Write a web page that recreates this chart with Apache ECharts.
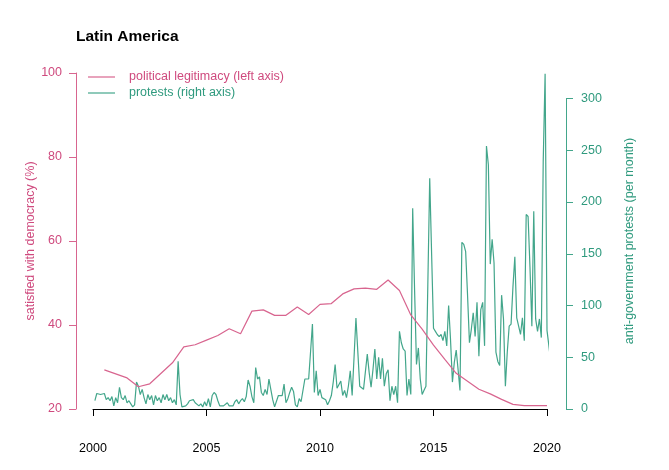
<!DOCTYPE html>
<html><head><meta charset="utf-8">
<script src="https://cdn.jsdelivr.net/npm/echarts@6/dist/echarts.min.js"></script>
<style>html,body{margin:0;padding:0;background:#fff}#c{width:669px;height:470px}</style>
</head><body><div id="c"></div>
<script>
// political legitimacy (satisfied with democracy, %), left axis
const legitYears = [2000.5, 2001.5, 2002.0, 2002.5, 2003.5, 2004.0, 2004.5, 2005.0, 2005.5, 2006.0,
  2006.5, 2007.0, 2007.5, 2008.0, 2008.5, 2009.0, 2009.5, 2010.0, 2010.5, 2011.0,
  2011.5, 2012.0, 2012.5, 2013.0, 2013.5, 2014.0, 2014.5, 2015.0, 2015.5, 2016.0,
  2016.5, 2017.0, 2017.5, 2018.0, 2018.5, 2019.0, 2020.0];
const legitValues = [29.3, 27.4, 25.3, 26.0, 31.0, 34.8, 35.3, 36.4, 37.5, 39.1,
  37.9, 43.3, 43.6, 42.3, 42.3, 44.3, 42.5, 44.9, 45.1, 47.4,
  48.6, 48.8, 48.5, 50.7, 48.2, 42.4, 39.0, 35.2, 31.8, 28.5,
  26.6, 24.7, 23.6, 22.3, 21.1, 20.8, 20.8];

// anti-government protests per month, right axis; first value = Feb 2000
const protestFirstMonth = 1; // months after January 2000
const protestValues = [
  8, 15, 14, 14, 13, 15, 9, 11, 8, 12,
  3, 11, 6, 21, 11, 9, 13, 6, 8, 5,
  2, 4, 26, 22, 14, 19, 11, 5, 14, 9,
  13, 4, 13, 8, 11, 6, 14, 9, 14, 8,
  11, 6, 9, 4, 46, 14, 2, 1, 3, 5,
  8, 7, 9, 6, 7, 3, 5, 2, 7, 3,
  10, 2, 13, 16, 14, 8, 3, 2, 3, 4,
  6, 3, 2, 3, 7, 9, 5, 8, 10, 7,
  12, 28, 22, 12, 6, 40, 29, 31, 16, 13,
  19, 14, 29, 19, 9, 2, 3, 13, 14, 13,
  24, 6, 10, 16, 21, 17, 4, 2, 10, 7,
  8, 29, 30, 29, 55, 82, 16, 37, 13, 19,
  11, 12, 9, 4, 8, 13, 26, 43, 20, 19,
  27, 13, 18, 11, 22, 37, 13, 50, 88, 55,
  22, 22, 19, 18, 53, 35, 21, 38, 58, 29,
  50, 29, 49, 22, 34, 38, 8, 22, 14, 22,
  6, 75, 64, 58, 56, 13, 29, 14, 194, 115,
  43, 59, 29, 14, 18, 22, 120, 223, 150, 78,
  75, 72, 70, 72, 66, 75, 61, 100, 67, 26,
  45, 57, 38, 18, 161, 159, 152, 110, 64, 77,
  93, 70, 103, 51, 96, 103, 61, 254, 236, 140,
  164, 141, 55, 46, 42, 110, 87, 22, 55, 80,
  82, 118, 147, 88, 89, 72, 88, 66, 188, 186,
  137, 80, 191, 87, 75, 87, 69, 239, 324, 76,
  61, 45, 59, 21, 66, 87, 58, 32, 61];

const xTickLabels = [2000, 2005, 2010, 2015, 2020];
const leftTicks = [20, 40, 60, 80, 100];
const rightTicks = [0, 50, 100, 150, 200, 250, 300];

const PINK = '#cf4a7e', PINK_LINE = '#d8658f';
const TEAL = '#2f9a7e', TEAL_LINE = '#43a68b';
const FONT = 'Liberation Sans, Arial, Helvetica, sans-serif';
const FS = 12.5;

const legitData = legitYears.map((y, i) => [y, legitValues[i]]);
const protestData = protestValues.map((v, k) => [2000 + (k + protestFirstMonth) / 12, v]);

const chart = echarts.init(document.getElementById('c'), null, {renderer: 'canvas'});
chart.setOption({
  animation: false,
  backgroundColor: '#fff',
  textStyle: {fontFamily: FONT},
  title: {
    text: 'Latin America', left: 76, top: 29, padding: 0,
    textStyle: {fontSize: 15.5, fontWeight: 'bold', color: '#000', fontFamily: FONT}
  },
  legend: {
    orient: 'vertical', left: 88, top: 70, padding: 0,
    icon: 'rect', itemWidth: 27, itemHeight: 1.2, itemGap: 2,
    selectedMode: false,
    textStyle: {fontSize: FS, fontFamily: FONT, padding: [0, 0, 0, 9], lineHeight: 14},
    data: [
      {name: 'political legitimacy (left axis)', textStyle: {color: PINK}},
      {name: 'protests (right axis)', textStyle: {color: TEAL}}
    ]
  },
  grid: [
    {left: 93, right: 122, top: 73, bottom: 61, containLabel: false, outerBoundsMode: 'none'},
    {left: 93, right: 122, top: 98.5, bottom: 61, containLabel: false, outerBoundsMode: 'none'}
  ],
  xAxis: [
    {
      type: 'value', gridIndex: 0, min: 2000, max: 2020, interval: 5, offset: 16,
      position: 'bottom',
      axisLine: {show: true, lineStyle: {color: '#000', width: 1}},
      axisTick: {show: true, length: 7, lineStyle: {color: '#000'}},
      axisLabel: {color: '#000', fontSize: FS, fontFamily: FONT, margin: 17,
        formatter: v => xTickLabels.includes(v) ? String(v) : ''},
      splitLine: {show: false}
    },
    {
      type: 'value', gridIndex: 1, min: 2000, max: 2020, show: false
    }
  ],
  yAxis: [
    {
      type: 'value', gridIndex: 0, min: 20, max: 100, interval: 20, position: 'left', offset: 17,
      name: 'satisfied with democracy (%)', nameLocation: 'middle', nameRotate: 90, nameGap: 39,
      nameMoveOverlap: false,
      nameTextStyle: {color: PINK, fontSize: FS, fontFamily: FONT},
      axisLine: {show: true, lineStyle: {color: PINK_LINE, width: 1}},
      axisTick: {show: true, length: 7, lineStyle: {color: PINK_LINE}},
      axisLabel: {color: PINK, fontSize: FS, fontFamily: FONT, margin: 14,
        formatter: v => leftTicks.includes(v) ? String(v) : ''},
      splitLine: {show: false}
    },
    {
      type: 'value', gridIndex: 0, min: 0, max: 1, position: 'right', offset: 19,
      name: 'anti-government protests (per month)', nameLocation: 'middle', nameRotate: 90, nameGap: 57,
      nameMoveOverlap: false,
      nameTextStyle: {color: TEAL, fontSize: FS, fontFamily: FONT},
      axisLine: {show: false}, axisTick: {show: false}, axisLabel: {show: false},
      splitLine: {show: false}
    },
    {
      type: 'value', gridIndex: 1, min: 0, max: 300, interval: 50, position: 'right', offset: 19,
      axisLine: {show: true, lineStyle: {color: TEAL_LINE, width: 1}},
      axisTick: {show: true, length: 7, lineStyle: {color: TEAL_LINE}},
      axisLabel: {color: TEAL, fontSize: FS, fontFamily: FONT, margin: 15,
        formatter: v => rightTicks.includes(v) ? String(v) : ''},
      splitLine: {show: false}
    }
  ],
  series: [
    {
      name: 'political legitimacy (left axis)', type: 'line',
      xAxisIndex: 0, yAxisIndex: 0, data: legitData,
      symbol: 'none', smooth: false, color: PINK_LINE,
      lineStyle: {color: PINK_LINE, width: 1.2}, z: 3
    },
    {
      name: 'protests (right axis)', type: 'line',
      xAxisIndex: 1, yAxisIndex: 2, data: protestData, clip: false,
      symbol: 'none', smooth: false, color: TEAL_LINE,
      lineStyle: {color: TEAL_LINE, width: 1.2}, z: 2
    }
  ]
});
</script></body></html>
